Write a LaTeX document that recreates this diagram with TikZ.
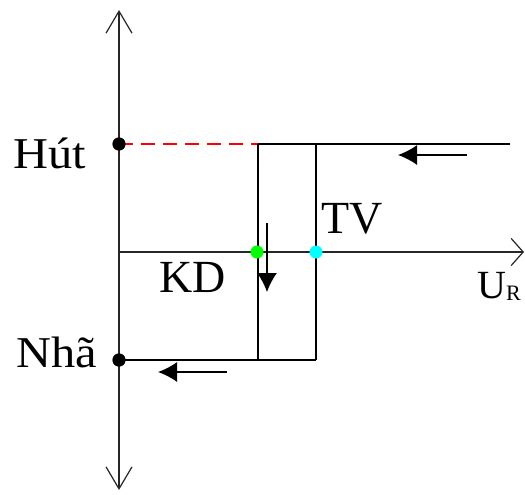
\documentclass[tikz,border=0pt]{standalone}
\usepackage{fontspec}
\setmainfont{Liberation Serif}
\newfontfamily\lblfont{Liberation Serif}
\newfontfamily\widefont[FakeStretch=1.1]{Liberation Serif}
\usetikzlibrary{arrows.meta}
\definecolor{kdgreen}{RGB}{0,255,0}
\definecolor{tvcyan}{RGB}{0,255,255}
\begin{document}
\begin{tikzpicture}[x=1pt,y=-1pt,
  ln/.style={line width=1.5pt, black},
  vaxis/.style={line width=1.4pt, black!85,
    {Straight Barb[length=22pt,width=26pt,line width=1.2pt]}-{Straight Barb[length=22pt,width=26pt,line width=1.2pt]}},
  haxis/.style={line width=1.4pt, black!85,
    -{Straight Barb[length=12pt,width=27pt,line width=1.2pt]}},
  redline/.style={line width=1.5pt, red, dash pattern=on 14pt off 8pt},
  dir/.style={line width=1.5pt, black, -{Latex[length=19pt,width=20pt]}},
  dot/.style={circle, fill=#1, inner sep=0pt, minimum size=13pt},
  lbl/.style={inner sep=0pt, font=\widefont\fontsize{44}{50}\selectfont}
]
\useasboundingbox (0,0) rectangle (525,495);

% coordinates
\coordinate (Yt) at (119,10);
\coordinate (Yb) at (119,490);
\coordinate (O) at (119,252);
\coordinate (Xe) at (524,252);
\coordinate (A) at (258,144);
\coordinate (B) at (316,144);
\coordinate (R) at (510,144);
\coordinate (C) at (258,360);
\coordinate (D) at (316,360);
\coordinate (a1s) at (467,155);
\coordinate (a1e) at (398,155);
\coordinate (a2s) at (267,223);
\coordinate (a2e) at (267,292);
\coordinate (a3s) at (227,372);
\coordinate (a3e) at (158,372);

% axes
\draw[vaxis] (Yb) -- (Yt);
\draw[haxis] (O) -- (Xe);

% dots (positions)
\node[dot=black] (H) at (119,144) {};
\node[dot=black] (N) at (119,360) {};

% characteristic
\draw[redline] (H.center) -- (A);
\draw[ln] (A) -- (R);
\draw[ln] (A) -- (C);
\draw[ln] (B) -- (D);
\draw[ln] (N.center) -- (D);

% direction arrows
\draw[dir] (a1s) -- (a1e);
\draw[dir] (a2s) -- (a2e);
\draw[dir] (a3s) -- (a3e);

% redraw dots on top
\node[dot=black] at (H) {};
\node[dot=black] at (N) {};
\node[dot=kdgreen] (G) at (257,252) {};
\node[dot=tvcyan] (Cy) at (316,252) {};

% labels
\node[lbl, anchor=base west] (tH) at (13,168) {Hút};
\node[lbl, anchor=base west] (tN) at (16,367) {Nhã};
\node[lbl, anchor=base west, font=\lblfont\fontsize{46}{50}\selectfont] (tK) at (159,292) {KD};
\node[lbl, anchor=base west, font=\lblfont\fontsize{46}{50}\selectfont] (tT) at (321,233) {TV};
\node[lbl, anchor=base west, font=\lblfont\fontsize{40}{46}\selectfont] (tU) at (477,298) {U\raisebox{-0.05em}{\fontsize{22}{24}\selectfont R}};
\end{tikzpicture}
\end{document}
